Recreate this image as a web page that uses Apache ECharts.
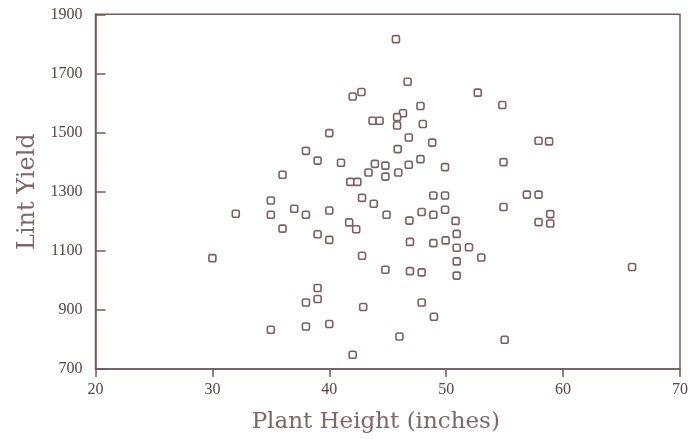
<!DOCTYPE html>
<html>
<head>
<meta charset="utf-8">
<script src="https://cdn.jsdelivr.net/npm/echarts@6/dist/echarts.min.js"></script>
<style>
html,body{margin:0;padding:0;background:#fff;}
#chart{width:694px;height:439px;}
</style>
</head>
<body>
<div id="chart"></div>
<script>
// Plant height (inches)
const heights = [
  30, 32, 35, 35, 35, 36, 36, 37, 38, 38,
  38, 38, 39, 39, 39, 39, 40, 40, 40, 40,
  41, 42, 42.75, 41.8, 42.4, 41.7, 42.3, 42, 42.8, 42.8,
  42.9, 43.35, 43.7, 44.3, 43.9, 43.8, 44.8, 44.8, 44.9, 44.8,
  45.7, 46.3, 45.8, 45.8, 45.85, 45.9, 46, 46.7, 46.8, 46.8,
  46.85, 46.9, 46.9, 47.8, 48, 47.8, 47.9, 47.9, 47.9, 48.8,
  48.9, 48.9, 48.9, 48.95, 49.9, 49.9, 49.9, 49.95, 50.8, 50.9,
  50.9, 50.9, 50.9, 51.95, 52.7, 53, 54.8, 54.9, 54.9, 55,
  56.9, 57.9, 57.9, 58.8, 57.9, 58.9, 58.9, 65.9
];
// Lint yield
const yields = [
  1075, 1225, 1270, 1222, 833, 1357, 1175, 1242, 1438, 1222,
  925, 844, 1405, 1156, 974, 937, 1498, 1236, 1137, 852,
  1398, 1622, 1637, 1333, 1333, 1196, 1173, 748, 1279, 1083,
  910, 1365, 1540, 1540, 1394, 1259, 1388, 1351, 1222, 1036,
  1816, 1565, 1552, 1524, 1444, 1365, 810, 1672, 1483, 1391,
  1202, 1130, 1031, 1590, 1529, 1410, 1231, 1027, 925, 1466,
  1287, 1222, 1126, 877, 1383, 1287, 1239, 1135, 1201, 1157,
  1110, 1064, 1016, 1112, 1635, 1077, 1593, 1400, 1248, 799,
  1290, 1290, 1472, 1470, 1197, 1224, 1192, 1045
];
const xTitle = 'Plant Height (inches)';
const yTitle = 'Lint Yield';

const points = heights.map((h, i) => [h, yields[i]]);

const axisCol = '#735b5b';
const labelCol = '#5a4444';
const titleCol = '#7d6767';
const tickFont = "'Liberation Serif', serif";
const titleFont = "'DejaVu Serif', serif";

const chart = echarts.init(document.getElementById('chart'), null, {renderer: 'canvas'});
chart.setOption({
  animation: false,
  backgroundColor: '#ffffff',
  grid: {
    left: 95.5, right: 14, top: 14.3, bottom: 69.7,
    show: true, borderColor: axisCol, borderWidth: 1.5, backgroundColor: 'transparent'
  },
  xAxis: {
    type: 'value', min: 20, max: 70, interval: 10,
    name: xTitle, nameLocation: 'middle', nameGap: 42,
    nameTextStyle: {fontFamily: titleFont, fontSize: 23, color: titleCol, padding: [0, 24, 0, 0]},
    axisLine: {show: true, lineStyle: {color: axisCol, width: 1.5}},
    axisTick: {show: true, inside: false, length: 8, lineStyle: {color: axisCol, width: 1.5}},
    axisLabel: {margin: 13, fontFamily: tickFont, fontSize: 16, color: labelCol,
      formatter: v => String(v)},
    splitLine: {show: false}
  },
  yAxis: {
    type: 'value', min: 700, max: 1900, interval: 200,
    name: yTitle, nameLocation: 'middle', nameGap: 56,
    nameTextStyle: {fontFamily: titleFont, fontSize: 24, color: titleCol},
    axisLine: {show: true, lineStyle: {color: axisCol, width: 1.5}},
    axisTick: {show: true, inside: true, length: 10, lineStyle: {color: axisCol, width: 1.5}},
    axisLabel: {margin: 13, fontFamily: tickFont, fontSize: 16, color: labelCol,
      formatter: v => String(v)},
    splitLine: {show: false}
  },
  series: [{
    type: 'scatter',
    data: points,
    symbol: 'roundRect',
    symbolSize: 7,
    itemStyle: {color: '#ffffff', borderColor: '#7a6060', borderWidth: 1.6, opacity: 1}
  }]
});
</script>
</body>
</html>
